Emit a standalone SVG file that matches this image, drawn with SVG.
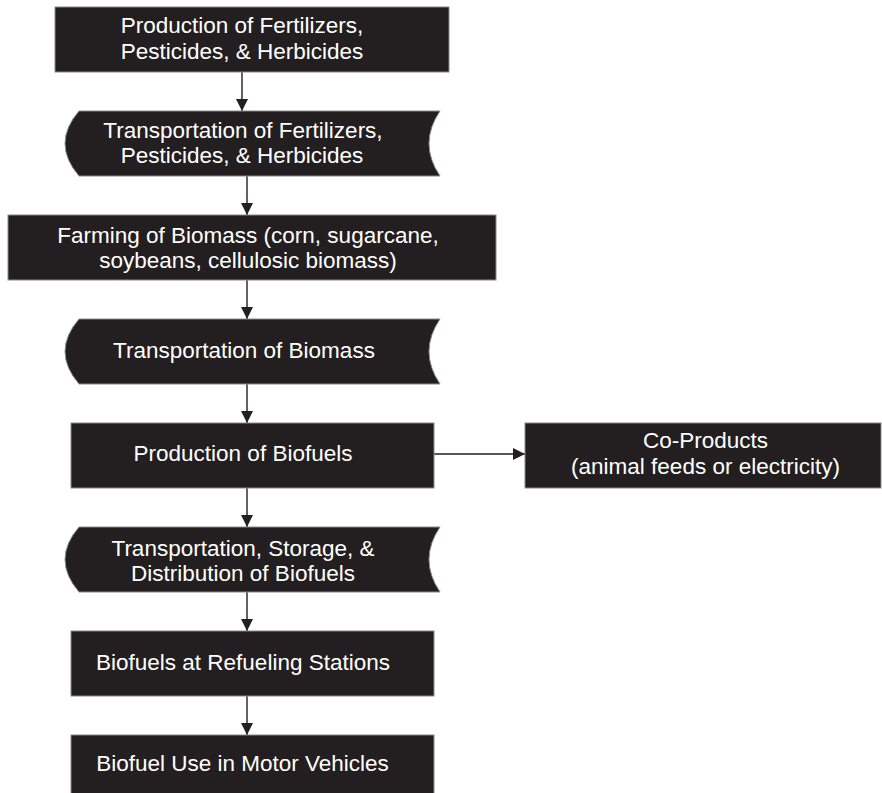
<svg xmlns="http://www.w3.org/2000/svg" width="882" height="793" viewBox="0 0 882 793">
<defs>
<style>
.n{fill:#231f20;stroke:#8a8a8a;stroke-width:1}
.t{fill:#ffffff;font-family:"Liberation Sans",Arial,sans-serif;font-size:22.5px;text-anchor:middle}
.c{stroke:#231f20;stroke-width:1.4;fill:none}
</style>
<marker id="ah" viewBox="0 0 12 12" refX="12" refY="6" markerWidth="12" markerHeight="12" markerUnits="userSpaceOnUse" orient="auto">
<path d="M0,0 L12,6 L0,12 Z" fill="#231f20"/>
</marker>
</defs>
<rect width="882" height="793" fill="#ffffff"/>
<g id="connectors">
<line class="c" x1="242" y1="72" x2="242" y2="111" marker-end="url(#ah)"/>
<line class="c" x1="247" y1="176" x2="247" y2="215" marker-end="url(#ah)"/>
<line class="c" x1="247" y1="280" x2="247" y2="319" marker-end="url(#ah)"/>
<line class="c" x1="247" y1="384" x2="247" y2="423" marker-end="url(#ah)"/>
<line class="c" x1="434" y1="454" x2="525" y2="454" marker-end="url(#ah)"/>
<line class="c" x1="247" y1="488" x2="247" y2="527" marker-end="url(#ah)"/>
<line class="c" x1="247" y1="592" x2="247" y2="631" marker-end="url(#ah)"/>
<line class="c" x1="247" y1="696" x2="247" y2="735" marker-end="url(#ah)"/>
</g>
<g id="n1">
<rect class="n" x="55" y="7" width="394" height="65"/>
<text class="t" x="242" y="33">Production of Fertilizers,</text>
<text class="t" x="242" y="59">Pesticides, &amp; Herbicides</text>
</g>
<g id="n2">
<path class="n" d="M79,111 L440,111 Q418,143.5 440,176 L79,176 Q51,143.5 79,111 Z"/>
<text class="t" x="243" y="138">Transportation of Fertilizers,</text>
<text class="t" x="242" y="163">Pesticides, &amp; Herbicides</text>
</g>
<g id="n3">
<rect class="n" x="8" y="215" width="488" height="65"/>
<text class="t" x="248" y="243">Farming of Biomass (corn, sugarcane,</text>
<text class="t" x="248" y="268">soybeans, cellulosic biomass)</text>
</g>
<g id="n4">
<path class="n" d="M79,319 L440,319 Q418,351.5 440,384 L79,384 Q51,351.5 79,319 Z"/>
<text class="t" x="244" y="358">Transportation of Biomass</text>
</g>
<g id="n5">
<rect class="n" x="71" y="423" width="363" height="65"/>
<text class="t" x="243" y="461">Production of Biofuels</text>
</g>
<g id="n6">
<rect class="n" x="525" y="423" width="356" height="65"/>
<text class="t" x="705.5" y="448">Co-Products</text>
<text class="t" x="705.5" y="474">(animal feeds or electricity)</text>
</g>
<g id="n7">
<path class="n" d="M79,527 L440,527 Q418,559.5 440,592 L79,592 Q51,559.5 79,527 Z"/>
<text class="t" x="243" y="556">Transportation, Storage, &amp;</text>
<text class="t" x="243" y="581">Distribution of Biofuels</text>
</g>
<g id="n8">
<rect class="n" x="71" y="631" width="363" height="65"/>
<text class="t" x="243" y="670">Biofuels at Refueling Stations</text>
</g>
<g id="n9">
<rect class="n" x="71" y="735" width="363" height="70"/>
<text class="t" x="242.5" y="771">Biofuel Use in Motor Vehicles</text>
</g>
</svg>
